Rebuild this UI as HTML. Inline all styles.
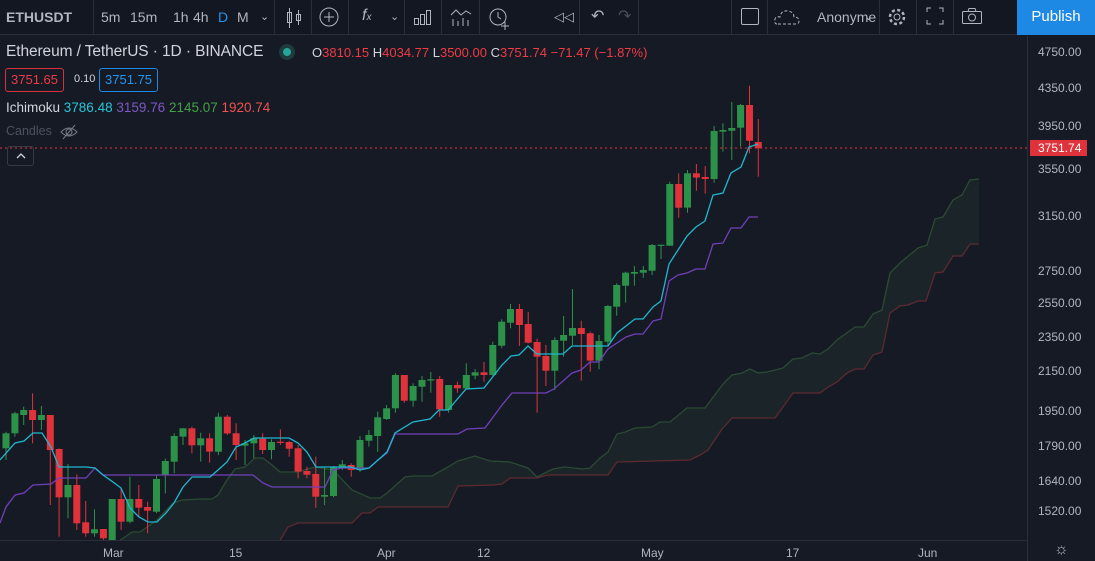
<!DOCTYPE html>
<html><head><meta charset="utf-8">
<style>
*{margin:0;padding:0;box-sizing:border-box}
body{width:1095px;height:561px;background:#161a25;overflow:hidden;font-family:"Liberation Sans",sans-serif;color:#b2b5be;position:relative}
.t{position:absolute;white-space:nowrap}
#tb{position:absolute;left:0;top:0;width:1095px;height:35px;background:#131722;border-bottom:1px solid #2a2e39}
.sep{position:absolute;top:0;width:1px;height:35px;background:#2a2e39}
.tbt{position:absolute;top:9px;font-size:14px;color:#b2b5be}
#pub{position:absolute;left:1017px;top:0;width:78px;height:35px;background:#1e88e5;color:#fff;font-size:15px;text-align:center;line-height:34px}
#pa{position:absolute;left:1027px;top:36px;width:68px;height:525px;border-left:1px solid #2a2e39;background:#161a25}
.pl{position:absolute;left:10px;font-size:12px;color:#b2b5be}
#ta{position:absolute;left:0;top:540px;width:1027px;height:21px;border-top:1px solid #2a2e39}
.tl{position:absolute;top:5px;font-size:12px;color:#b2b5be}
</style></head><body>
<svg id="ch" width="1027" height="540" style="position:absolute;left:0;top:0"></svg>

<div id="tb">
<div class="tbt" style="left:6px;font-weight:bold;color:#b2b5be">ETHUSDT</div>
<div class="sep" style="left:93px"></div>
<div class="tbt" style="left:101px">5m</div>
<div class="tbt" style="left:130px">15m</div>
<div class="tbt" style="left:173px">1h</div>
<div class="tbt" style="left:193px">4h</div>
<div class="tbt" style="left:218px;color:#2196f3">D</div>
<div class="tbt" style="left:237px">M</div>
<div class="tbt" style="left:260px;font-size:11px;top:10px">&#8964;</div>
<div class="sep" style="left:274px"></div>
<svg style="position:absolute;left:284px;top:7px" width="20" height="22"><g stroke="#b2b5be" fill="none"><rect x="3.5" y="5.5" width="4" height="10"/><line x1="5.5" y1="1" x2="5.5" y2="21"/><rect x="12.5" y="7.5" width="4" height="6"/><line x1="14.5" y1="3" x2="14.5" y2="18"/></g></svg>
<div class="sep" style="left:311px"></div>
<svg style="position:absolute;left:318px;top:6px" width="22" height="22"><g stroke="#b2b5be" fill="none"><circle cx="11" cy="11" r="9"/><line x1="11" y1="6" x2="11" y2="16"/><line x1="6" y1="11" x2="16" y2="11"/></g></svg>
<div class="sep" style="left:348px"></div>
<div class="tbt" style="left:362px;font-style:italic;font-size:16px;top:7px">f<span style="font-size:10px">x</span></div>
<div class="tbt" style="left:390px;font-size:11px;top:10px">&#8964;</div>
<div class="sep" style="left:404px"></div>
<svg style="position:absolute;left:413px;top:8px" width="20" height="18"><g stroke="#b2b5be" fill="none"><rect x="1.5" y="10.5" width="4" height="6"/><rect x="7.5" y="6.5" width="4" height="10"/><rect x="13.5" y="2.5" width="4" height="14"/></g></svg>
<div class="sep" style="left:441px"></div>
<svg style="position:absolute;left:450px;top:7px" width="22" height="20"><g stroke="#b2b5be" fill="none"><polyline points="1,8 6,3 11,8 16,4 21,7"/><line x1="3" y1="12" x2="3" y2="19"/><line x1="8" y1="14" x2="8" y2="19"/><line x1="13" y1="11" x2="13" y2="19"/><line x1="18" y1="13" x2="18" y2="19"/></g></svg>
<div class="sep" style="left:479px"></div>
<svg style="position:absolute;left:487px;top:5px" width="26" height="26"><g stroke="#b2b5be" fill="none"><circle cx="11" cy="12" r="8"/><polyline points="11,7 11,12 14,14"/><line x1="18" y1="17" x2="18" y2="25"/><line x1="14" y1="21" x2="22" y2="21"/></g></svg>
<div class="tbt" style="left:554px;font-size:13px">&#9665;&#9665;</div>
<div class="sep" style="left:579px"></div>
<div class="tbt" style="left:591px;font-size:16px;top:6px">&#8630;</div>
<div class="tbt" style="left:618px;font-size:16px;top:6px;color:#4a4e59">&#8631;</div>
<div class="sep" style="left:638px"></div>
<div class="sep" style="left:731px"></div>
<div style="position:absolute;left:741px;top:8px;width:18px;height:17px;border:1px solid #b2b5be;border-radius:2px"></div>
<div class="sep" style="left:767px"></div>
<svg style="position:absolute;left:774px;top:8px" width="26" height="18"><path d="M3,16 Q0,16 1,11 Q2,8 6,9 Q7,2 14,3 Q20,4 20,9 Q25,9 25,13 Q25,16 22,16 Z" stroke="#b2b5be" fill="none" stroke-dasharray="3,2"/></svg>
<div class="tbt" style="left:817px">Anonyme</div>
<div class="tbt" style="left:864px;font-size:11px;top:10px">&#8964;</div>
<div class="sep" style="left:879px"></div>
<svg style="position:absolute;left:887px;top:7px" width="20" height="20"><g stroke="#b2b5be" fill="none"><circle cx="10" cy="10" r="3"/><circle cx="10" cy="10" r="7" stroke-dasharray="3,2.5" stroke-width="2.5"/></g></svg>
<div class="sep" style="left:916px"></div>
<svg style="position:absolute;left:926px;top:7px" width="18" height="18"><g stroke="#b2b5be" fill="none"><polyline points="1,5 1,1 5,1"/><polyline points="13,1 17,1 17,5"/><polyline points="1,13 1,17 5,17"/><polyline points="13,17 17,17 17,13"/></g></svg>
<div class="sep" style="left:953px"></div>
<svg style="position:absolute;left:961px;top:7px" width="22" height="18"><g stroke="#b2b5be" fill="none"><rect x="1.5" y="4.5" width="19" height="12" rx="1"/><circle cx="11" cy="10.5" r="3.5"/><polyline points="7,4.5 8,1.5 14,1.5 15,4.5"/></g></svg>
<div id="pub">Publish</div>
</div>

<div class="t" style="left:6px;top:43px;font-size:15.5px;color:#d1d4dc;letter-spacing:-0.1px">Ethereum / TetherUS · 1D · BINANCE</div>
<div style="position:absolute;left:279px;top:44px;width:16px;height:16px;border-radius:50%;background:#1f3b3b"></div>
<div style="position:absolute;left:283px;top:48px;width:8px;height:8px;border-radius:50%;background:#26a69a"></div>
<div class="t" style="left:312px;top:45px;font-size:13px;color:#d1d4dc">O<span style="color:#ef3b44">3810.15</span> H<span style="color:#ef3b44">4034.77</span> L<span style="color:#ef3b44">3500.00</span> C<span style="color:#ef3b44">3751.74 −71.47 (−1.87%)</span></div>
<div class="t" style="left:5px;top:68px;width:59px;height:24px;border:1px solid #d7323b;border-radius:3px;color:#ef3b44;font-size:13px;text-align:center;line-height:22px">3751.65</div>
<div class="t" style="left:74px;top:73px;font-size:11px;color:#d1d4dc">0.10</div>
<div class="t" style="left:99px;top:68px;width:59px;height:24px;border:1px solid #1e88e5;border-radius:3px;color:#2196f3;font-size:13px;text-align:center;line-height:22px">3751.75</div>
<div class="t" style="left:6px;top:100px;font-size:13.5px;color:#d1d4dc">Ichimoku <span style="color:#26c6da">3786.48</span> <span style="color:#7e57c2">3159.76</span> <span style="color:#43a047">2145.07</span> <span style="color:#ef5350">1920.74</span></div>
<div class="t" style="left:6px;top:124px;font-size:12.5px;color:#4c525e">Candles</div>
<svg style="position:absolute;left:60px;top:124px" width="18" height="16"><g stroke="#787b86" fill="none"><path d="M1,8 Q9,0 17,8 Q9,16 1,8Z"/><circle cx="9" cy="8" r="3"/><line x1="3" y1="15" x2="15" y2="1"/></g></svg>
<div style="position:absolute;left:7px;top:146px;width:27px;height:20px;border:1px solid #363a45;border-radius:3px"></div>
<svg style="position:absolute;left:15px;top:152px" width="12" height="8"><polyline points="2,6 6,2 10,6" stroke="#d1d4dc" fill="none" stroke-width="1.3"/></svg>

<div id="pa">
<div class="pl" style="top:9px">4750.00</div>
<div class="pl" style="top:45px">4350.00</div>
<div class="pl" style="top:83px">3950.00</div>
<div class="pl" style="top:126px">3550.00</div>
<div class="pl" style="top:173px">3150.00</div>
<div class="pl" style="top:228px">2750.00</div>
<div class="pl" style="top:260px">2550.00</div>
<div class="pl" style="top:294px">2350.00</div>
<div class="pl" style="top:328px">2150.00</div>
<div class="pl" style="top:368px">1950.00</div>
<div class="pl" style="top:403px">1790.00</div>
<div class="pl" style="top:438px">1640.00</div>
<div class="pl" style="top:468px">1520.00</div>
<div style="position:absolute;left:2px;top:104px;width:57px;height:16px;background:#e0323a;color:#fff;font-size:12px;line-height:16px;padding-left:8px">3751.74</div>
</div>

<div id="ta">
<div class="tl" style="left:103px">Mar</div>
<div class="tl" style="left:229px">15</div>
<div class="tl" style="left:377px">Apr</div>
<div class="tl" style="left:477px">12</div>
<div class="tl" style="left:641px">May</div>
<div class="tl" style="left:786px">17</div>
<div class="tl" style="left:918px">Jun</div>
</div>
<div class="t" style="left:1054px;top:541px;font-size:16px;color:#b2b5be">&#9788;</div>

<script>
var s=document.getElementById('ch'),h='';
function pts(a){var r=[];for(var i=0;i<a.length;i+=2)r.push(a[i]+','+a[i+1]);return r;}
var A=[120,540,125,537,132,532,140,532,157,520,173,503,182,500,200,499,212,499,218,495,227,480,235,469,245,467,255,458,263,458,272,465,280,472,297,472,315,467,333,470,352,490,370,498,380,498,387,493,405,477,413,476,432,476,448,467,458,461,475,456,490,461,510,462,528,468,537,477,553,469,565,467,582,469,590,468,600,458,608,452,617,434,625,432,635,428,652,427,660,422,670,422,687,408,705,408,723,384,732,375,742,373,750,369,758,373,767,372,783,368,793,359,802,358,812,353,820,354,828,349,837,340,855,327,864,327,873,314,882,310,890,273,900,263,918,248,927,245,935,219,943,217,953,200,962,195,970,180,979,179];
var B=[120,540,280,540,282,537,288,527,298,523,352,523,362,513,370,513,378,507,448,507,458,486,493,485,502,484,510,478,537,478,547,475,608,475,617,462,690,460,700,455,708,450,722,429,732,418,775,418,793,393,820,393,828,387,837,382,847,373,855,369,864,369,873,355,882,352,890,313,900,306,908,305,918,301,926,301,935,273,943,272,953,256,962,256,970,244,979,244];
var T=[0,460,15,443,24,441,33,433,42,433,51,447,59,467,86,467,95,468,103,475,113,482,121,488,130,508,139,517,148,522,157,522,166,513,174,503,183,487,192,477,210,477,218,470,227,462,236,447,245,443,254,438,289,438,298,443,307,452,316,467,351,467,360,470,369,468,378,460,387,452,395,433,413,422,430,419,439,410,448,410,466,389,484,388,502,365,511,356,519,355,528,346,537,354,563,354,572,346,608,346,617,333,635,319,643,319,653,307,661,301,669,264,687,236,696,227,705,221,713,195,723,193,731,173,741,167,749,147,758,144];
var K=[0,523,6,507,15,495,24,493,33,485,51,484,59,478,86,478,95,468,103,475,253,475,263,483,272,487,325,487,333,470,342,468,369,468,378,460,387,453,395,434,458,434,467,429,485,428,502,405,512,393,546,393,554,389,572,373,581,370,590,362,599,362,608,349,626,337,635,334,643,334,653,321,661,319,669,281,678,275,687,273,696,269,705,269,713,244,723,243,731,228,741,228,749,217,758,217];
var pa=pts(A),pb=pts(B);
h+='<defs><clipPath id="c"><rect x="0" y="36" width="1027" height="504"/></clipPath></defs><g clip-path="url(#c)">';
h+='<polygon points="'+pa.join(' ')+' '+pb.slice().reverse().join(' ')+'" fill="rgba(60,110,70,0.13)"/>';
h+='<polyline points="'+pa.join(' ')+'" fill="none" stroke="#2b4a33" stroke-width="1.3"/>';
h+='<polyline points="'+pb.slice(1).join(' ')+'" fill="none" stroke="#5c2a30" stroke-width="1.3"/>';
h+='<line x1="0" y1="148" x2="1027" y2="148" stroke="#e0323a" stroke-width="1" stroke-dasharray="2,3"/>';
var C1="g,160,205,155,240|g,100,160,95,170|g,90,105,80,135|r,90,120,40,190|g,105,120,78,150|r,105,210,105,375|r,207,352,205,470|g,315,352,252,415|r,315,430,283,450|r,427,460,363,470|g,448,460,388,470|r,447,475,447,480|g,357,480,357,480|r,357,425,325,450|g,357,425,290,430|r,357,383,315,410|r,381,392,365,460|g,297,395,285,400|g,243,285,236,340|g,168,245,160,280|g,145,170,145,195|r,145,196,140,220|g,175,196,158,245|r,175,215,160,248|g,110,215,98,225|r,110,160,105,165|r,160,195,130,240|g,190,197,180,255|g,175,190,165,235|r,176,210,160,222|g,186,210,178,238|r,185,188,148,195|r,186,206,183,230|r,205,275,195,295|r,273,284,260,295|r,282,350,230,383|g,345,350,263,375|g,260,348,258,352|g,253,265,240,270|r,255,270,250,290|g,180,270,168,275|g,165,182,150,200|g,112,168,95,215";
var C2="g,985,1017,975,1020|g,885,985,880,998|r,885,962,885,968|g,918,962,910,980|g,900,920,888,965|g,898,902,876,938|r,897,988,888,1010|g,915,990,915,998|r,915,925,905,938|g,885,925,850,928|g,877,887,867,898|r,877,885,846,905|g,795,885,785,888|g,725,797,718,805|g,687,728,672,745|r,687,735,672,798|r,732,788,696,790|r,786,830,776,998|r,828,872,795,918|g,780,872,772,930|g,765,782,708,830|g,744,767,627,795|r,744,762,722,902|r,760,842,755,875|g,783,842,765,868|g,678,785,675,795|g,615,680,610,707|g,578,617,575,668|g,576,581,558,617|g,570,578,558,593|g,495,572,492,585|g,494,497,494,537|g,312,497,305,497|r,312,383,280,413|g,280,383,270,398|r,280,293,252,332|r,291,297,258,341|g,153,297,138,308|g,150,155,130,215|g,144,152,66,240|g,75,143,72,200|r,75,182,17,220|r,186,205,117,290";
var k=0;
function draw(str,off){str.split('|').forEach(function(r){var v=r.split(','),col=v[0]=='g'?'#2d9249':'#e0323a';var x=6+k*8.851;var bt=+v[1]/3+off,bb=+v[2]/3+off,wt=+v[3]/3+off,wb=+v[4]/3+off;var bh=Math.max(bb-bt,1.2);
h+='<line x1="'+x.toFixed(1)+'" y1="'+wt.toFixed(1)+'" x2="'+x.toFixed(1)+'" y2="'+wb.toFixed(1)+'" stroke="'+col+'" stroke-width="1"/>';
h+='<rect x="'+(x-3.5).toFixed(1)+'" y="'+bt.toFixed(1)+'" width="7" height="'+bh.toFixed(1)+'" fill="'+col+'"/>';k++;});}
draw(C1,380);draw(C2,80);
h+='<polyline points="'+pts(K).join(' ')+'" fill="none" stroke="#7040b8" stroke-width="1.3"/>';
h+='<polyline points="'+pts(T).join(' ')+'" fill="none" stroke="#1fb8cf" stroke-width="1.3"/>';
h+='</g>';
s.innerHTML=h;
</script>
</body></html>
